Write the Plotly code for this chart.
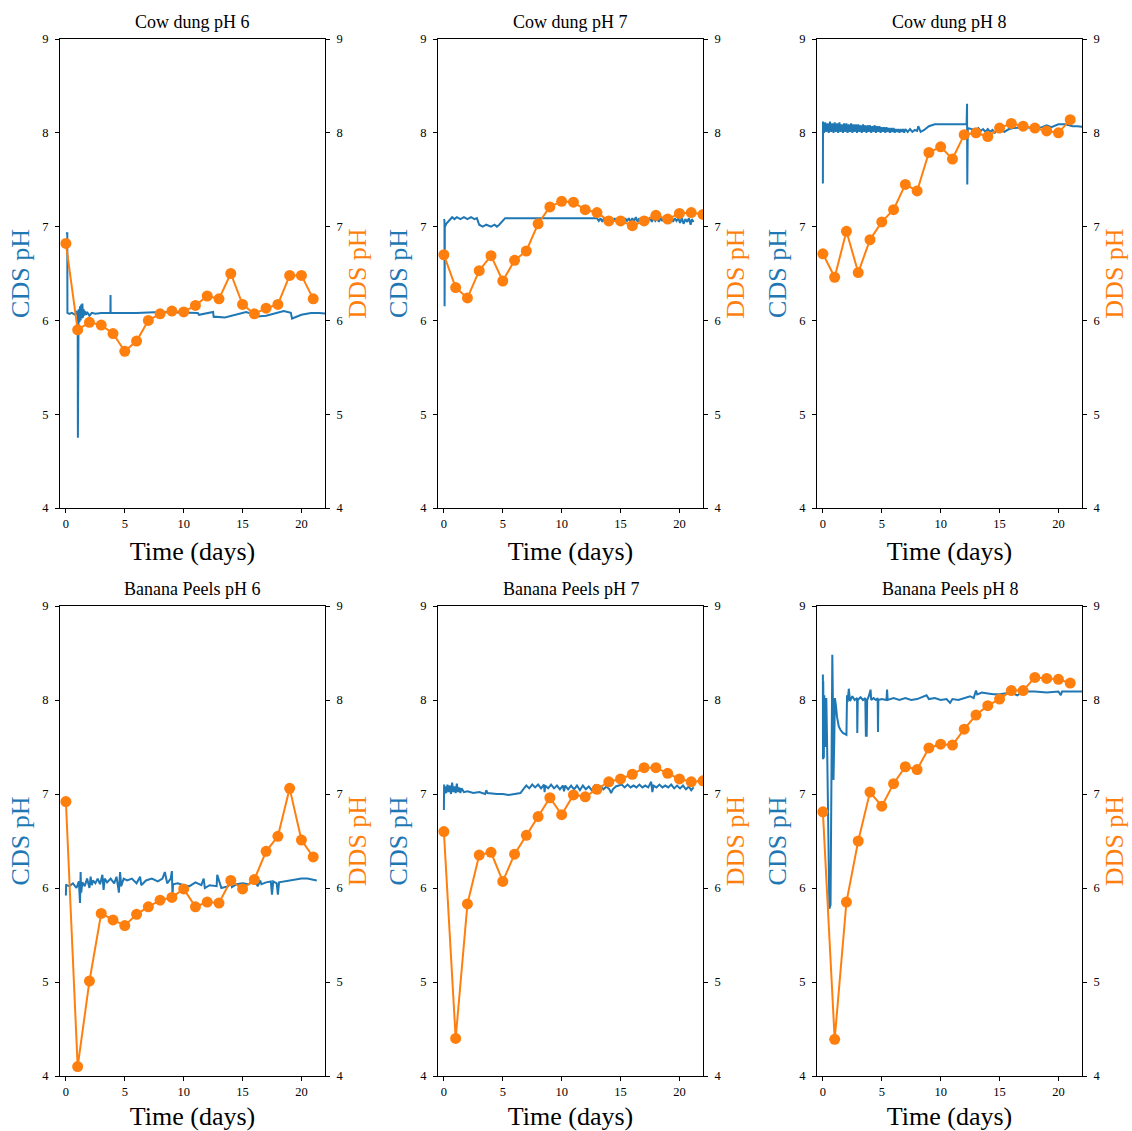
import plotly.graph_objects as go

# ---------------- data ----------------
titles = ["Cow dung pH 6", "Cow dung pH 7", "Cow dung pH 8",
          "Banana Peels pH 6", "Banana Peels pH 7", "Banana Peels pH 8"]

x_ticks = [0, 5, 10, 15, 20]
y_ticks = [4, 5, 6, 7, 8, 9]

# DDS daily samples (days 0..n)
dds_cd6 = [6.82, 5.90, 5.98, 5.95, 5.86, 5.67, 5.78, 6.00, 6.07, 6.10, 6.09,
           6.16, 6.26, 6.23, 6.50, 6.17, 6.07, 6.13, 6.17, 6.48, 6.48, 6.23]
dds_cd7 = [6.70, 6.35, 6.24, 6.53, 6.69, 6.42, 6.64, 6.74, 7.03, 7.21, 7.27,
           7.26, 7.18, 7.15, 7.06, 7.06, 7.01, 7.06, 7.12, 7.08, 7.14, 7.15, 7.13]
dds_cd8 = [6.71, 6.46, 6.95, 6.51, 6.86, 7.05, 7.18, 7.45, 7.38, 7.79, 7.85,
           7.72, 7.98, 8.00, 7.96, 8.05, 8.10, 8.07, 8.05, 8.02, 8.00, 8.14]
dds_bp6 = [6.92, 4.10, 5.01, 5.73, 5.66, 5.60, 5.72, 5.80, 5.87, 5.90, 5.99,
           5.80, 5.85, 5.84, 6.08, 5.99, 6.09, 6.39, 6.55, 7.06, 6.51, 6.33]
dds_bp7 = [6.60, 4.40, 5.83, 6.35, 6.38, 6.07, 6.36, 6.56, 6.76, 6.96, 6.78,
           6.99, 6.97, 7.05, 7.13, 7.16, 7.21, 7.28, 7.28, 7.22, 7.16, 7.13, 7.14]
dds_bp8 = [6.81, 4.39, 5.85, 6.50, 7.02, 6.87, 7.11, 7.29, 7.26, 7.49, 7.53,
           7.52, 7.69, 7.84, 7.94, 8.01, 8.10, 8.10, 8.24, 8.23, 8.22, 8.18]

# CDS continuous logger readings (time in days, pH)
cds_cd6 = [(0, 6.93), (0.12, 6.93), (0.13, 6.08), (0.3, 6.07), (0.5, 6.08), (0.8, 6.06),
           (0.95, 6.10), (1.0, 6.05), (1.02, 4.75), (1.04, 6.02), (1.08, 6.12), (1.15, 5.98),
           (1.2, 6.15), (1.25, 6.00), (1.3, 6.17), (1.35, 6.02), (1.4, 6.18), (1.45, 6.03),
           (1.5, 6.12), (1.55, 6.05), (1.6, 6.10), (1.7, 6.06), (1.8, 6.09), (2.0, 6.05),
           (2.2, 6.08), (2.5, 6.07), (3.0, 6.08), (3.5, 6.08), (3.78, 6.08), (3.79, 6.27),
           (3.8, 6.08), (4.5, 6.08), (6.0, 6.08), (8.0, 6.09), (10.0, 6.08), (11.2, 6.08),
           (11.3, 6.06), (12.5, 6.09), (12.55, 6.03), (12.6, 6.04), (13.5, 6.03), (14.5, 6.06),
           (15.3, 6.09), (15.8, 6.07), (16.0, 6.04), (17.0, 6.05), (18.5, 6.10), (19.1, 6.08),
           (19.2, 6.02), (20.0, 6.06), (20.8, 6.08), (21.5, 6.08), (22.2, 6.07)]

cds_cd7 = [(0, 7.08), (0.05, 7.06), (0.06, 6.15), (0.08, 7.02), (0.1, 7.00), (0.2, 7.03),
           (0.35, 7.05), (0.5, 7.07), (0.7, 7.10), (0.9, 7.08), (1.1, 7.10), (1.4, 7.08),
           (1.7, 7.10), (2.0, 7.08), (2.3, 7.10), (2.6, 7.08), (2.8, 7.09),
           (3.0, 7.02), (3.3, 7.00), (3.6, 7.02), (4.0, 7.00), (4.3, 7.02), (4.5, 7.00),
           (4.7, 7.02), (5.0, 7.06), (5.2, 7.09), (7.0, 7.09), (10.0, 7.09), (12.8, 7.09),
           (13.0, 7.09), (13.15, 7.06), (13.3, 7.09), (13.45, 7.05), (13.6, 7.09), (13.75, 7.06),
           (13.9, 7.10), (14.05, 7.05), (14.2, 7.09), (14.35, 7.06), (14.5, 7.09), (14.65, 7.05),
           (14.8, 7.09), (14.95, 7.06), (15.1, 7.10), (15.25, 7.05), (15.4, 7.09), (15.55, 7.06),
           (15.7, 7.09), (15.85, 7.05), (16.0, 7.09), (16.15, 7.06), (16.3, 7.10), (16.45, 7.05),
           (16.6, 7.09), (16.75, 7.06), (16.9, 7.09), (17.05, 7.05), (17.2, 7.09), (17.35, 7.06),
           (17.5, 7.10), (17.65, 7.05), (17.8, 7.09), (17.95, 7.06), (18.1, 7.09), (18.25, 7.05),
           (18.4, 7.09), (18.55, 7.06), (18.7, 7.10), (18.85, 7.05), (19.0, 7.09), (19.15, 7.06),
           (19.3, 7.09), (19.45, 7.05), (19.6, 7.09), (19.75, 7.06), (19.9, 7.09), (20.05, 7.04),
           (20.2, 7.09), (20.35, 7.03), (20.5, 7.08), (20.65, 7.05), (20.8, 7.09), (20.95, 7.02),
           (21.05, 7.08), (21.2, 7.05)]

cds_cd8 = [(0, 7.46), (0.01, 8.12), (0.1, 8.00), (0.2, 8.11), (0.3, 8.01), (0.4, 8.10),
           (0.5, 8.00), (0.6, 8.12), (0.7, 8.01), (0.8, 8.10), (0.9, 8.00), (1.0, 8.11),
           (1.1, 8.01), (1.2, 8.10), (1.3, 8.00), (1.4, 8.11), (1.5, 8.01), (1.6, 8.09),
           (1.7, 8.00), (1.8, 8.10), (1.9, 8.01), (2.0, 8.10), (2.1, 8.00), (2.2, 8.09),
           (2.3, 8.01), (2.4, 8.10), (2.5, 8.00), (2.6, 8.09), (2.7, 8.01), (2.8, 8.09),
           (2.9, 8.00), (3.0, 8.09), (3.1, 8.01), (3.2, 8.08), (3.3, 8.00), (3.4, 8.09),
           (3.5, 8.01), (3.6, 8.08), (3.7, 8.00), (3.8, 8.08), (3.9, 8.01), (4.0, 8.08),
           (4.1, 8.00), (4.2, 8.07), (4.3, 8.01), (4.4, 8.08), (4.5, 8.00), (4.6, 8.07),
           (4.7, 8.01), (4.8, 8.07), (4.9, 8.00), (5.0, 8.06), (5.1, 8.01), (5.2, 8.06),
           (5.3, 8.00), (5.4, 8.06), (5.5, 8.01), (5.6, 8.05), (5.7, 8.00), (5.8, 8.05),
           (5.9, 8.01), (6.0, 8.05), (6.1, 8.00), (6.2, 8.04), (6.3, 8.01), (6.4, 8.04),
           (6.5, 8.00), (6.6, 8.04), (6.7, 8.01), (6.8, 8.04), (6.9, 8.00), (7.0, 8.04),
           (7.2, 8.01), (7.4, 8.04), (7.6, 8.01), (7.8, 8.03), (8.0, 8.02), (8.1, 8.07),
           (8.3, 8.01), (8.6, 8.03), (9.0, 8.07), (9.5, 8.09), (10.5, 8.09), (11.5, 8.09),
           (12.2, 8.09), (12.24, 8.31), (12.26, 7.45), (12.28, 8.06), (12.3, 8.05), (12.6, 8.04),
           (13.0, 8.03), (13.2, 8.05), (13.4, 8.02), (13.6, 8.04), (13.8, 8.01), (14.0, 8.04),
           (14.2, 8.01), (14.4, 8.03), (14.6, 8.00), (14.8, 8.03), (15.0, 8.01), (15.2, 8.04),
           (15.4, 8.01), (15.8, 8.04), (16.2, 8.05), (17.0, 8.06), (18.0, 8.05), (18.6, 8.06),
           (19.0, 8.08), (19.4, 8.06), (20.0, 8.09), (20.6, 8.09), (21.2, 8.07), (21.6, 8.07),
           (22.2, 8.06)]

cds_bp6 = [(0, 5.92), (0.02, 6.04), (0.04, 5.95), (0.06, 6.03), (0.3, 6.02), (0.6, 6.05),
           (0.9, 6.00), (1.1, 6.07), (1.2, 5.84), (1.25, 6.17), (1.3, 5.95), (1.4, 6.06),
           (1.6, 6.02), (1.8, 6.10), (2.0, 6.00), (2.1, 6.12), (2.2, 6.03), (2.3, 6.08),
           (2.5, 6.05), (2.7, 6.10), (2.9, 6.04), (3.1, 6.14), (3.2, 5.98), (3.3, 6.10),
           (3.5, 6.06), (3.8, 6.10), (4.1, 6.05), (4.3, 6.12), (4.5, 5.95), (4.6, 6.17),
           (4.7, 6.02), (4.9, 6.10), (5.2, 6.08), (5.6, 6.10), (6.0, 6.05), (6.3, 6.12),
           (6.4, 6.03), (6.8, 6.08), (7.3, 6.10), (7.8, 6.07), (8.2, 6.10), (8.4, 6.17),
           (8.6, 6.05), (8.9, 6.10), (9.0, 6.18), (9.05, 5.92), (9.1, 6.04), (9.5, 6.05),
           (10.0, 6.03), (10.5, 6.02), (11.0, 6.06), (11.5, 6.03), (11.7, 6.10), (11.8, 6.00),
           (12.2, 6.03), (12.8, 6.02), (12.85, 6.14), (13.2, 6.00), (13.8, 6.02), (14.0, 6.08),
           (14.1, 6.01), (14.5, 6.04), (15.0, 6.05), (15.5, 6.04), (16.0, 6.07), (16.3, 6.02),
           (16.5, 6.08), (16.6, 6.04), (17.0, 6.06), (17.4, 6.07), (17.5, 5.93), (17.6, 6.07),
           (17.9, 6.05), (18.0, 5.93), (18.1, 6.06), (18.5, 6.07), (19.0, 6.08), (19.5, 6.09),
           (20.0, 6.10), (20.5, 6.10), (21.0, 6.09), (21.3, 6.08)]

cds_bp7 = [(0, 6.83), (0.02, 7.10), (0.05, 7.00), (0.1, 7.08), (0.2, 7.01), (0.3, 7.10),
           (0.4, 7.02), (0.5, 7.09), (0.6, 7.00), (0.7, 7.12), (0.8, 7.02), (0.9, 7.08),
           (1.0, 7.01), (1.1, 7.11), (1.2, 7.02), (1.3, 7.07), (1.4, 7.01), (1.5, 7.06),
           (1.7, 7.02), (2.0, 7.03), (2.5, 7.01), (3.0, 7.02), (3.5, 7.00), (3.6, 7.04),
           (3.7, 7.01), (4.5, 7.00), (5.0, 7.00), (5.5, 6.99), (6.0, 7.00), (6.5, 7.01),
           (6.8, 7.06), (7.0, 7.09), (7.25, 7.06), (7.5, 7.10), (7.75, 7.07), (8.0, 7.10),
           (8.25, 7.06), (8.5, 7.10), (8.55, 7.02), (8.6, 7.09), (8.85, 7.06), (9.1, 7.10),
           (9.35, 7.06), (9.6, 7.09), (9.85, 7.05), (10.1, 7.09), (10.2, 7.03), (10.3, 7.09),
           (10.55, 7.05), (10.8, 7.09), (11.05, 7.05), (11.3, 7.09), (11.55, 7.04), (11.8, 7.09),
           (12.05, 7.05), (12.3, 7.08), (12.55, 7.04), (12.8, 7.09), (13.05, 7.04), (13.3, 7.08),
           (13.55, 7.05), (13.8, 7.08), (14.05, 7.05), (14.2, 7.01), (14.35, 7.05), (14.6, 7.08),
           (14.85, 7.09), (15.1, 7.10), (15.35, 7.07), (15.6, 7.10), (15.85, 7.07), (16.1, 7.09),
           (16.35, 7.07), (16.6, 7.10), (16.85, 7.07), (17.1, 7.09), (17.35, 7.07), (17.6, 7.13),
           (17.7, 7.02), (17.8, 7.09), (18.05, 7.07), (18.3, 7.10), (18.55, 7.07), (18.8, 7.09),
           (19.05, 7.07), (19.3, 7.10), (19.55, 7.06), (19.8, 7.09), (20.05, 7.06), (20.3, 7.09),
           (20.55, 7.05), (20.8, 7.08), (21.0, 7.04), (21.2, 7.07)]

cds_bp8 = [(0, 8.27), (0.01, 7.37), (0.03, 8.20), (0.08, 7.38), (0.12, 8.05), (0.2, 7.50),
           (0.29, 8.02), (0.35, 7.60), (0.45, 6.50), (0.55, 5.78), (0.65, 5.82), (0.72, 7.50),
           (0.8, 8.48), (0.85, 8.00), (0.9, 7.15), (0.97, 7.60), (1.02, 8.02), (1.1, 7.95),
           (1.2, 7.82), (1.35, 7.72), (1.5, 7.68), (1.7, 7.65), (1.95, 7.63), (2.0, 7.63),
           (2.05, 8.05), (2.1, 7.98), (2.2, 8.12), (2.3, 7.99), (2.5, 8.04), (2.7, 8.00),
           (2.9, 8.02), (2.92, 7.65), (2.96, 8.00), (3.2, 8.03), (3.4, 8.00), (3.6, 8.02),
           (3.65, 7.62), (3.72, 7.62), (3.76, 8.00), (3.9, 8.04), (4.05, 8.11), (4.1, 8.00),
           (4.3, 8.02), (4.5, 8.00), (4.65, 8.02), (4.68, 7.66), (4.71, 8.00), (5.0, 8.01),
           (5.4, 8.00), (5.45, 8.11), (5.5, 8.00), (6.0, 8.02), (6.5, 8.00), (7.0, 8.02),
           (7.5, 8.00), (8.0, 8.01), (8.5, 8.03), (8.8, 8.05), (9.0, 8.01), (9.5, 8.02),
           (10.0, 8.00), (10.5, 8.01), (10.8, 7.97), (11.0, 8.01), (11.5, 8.00), (12.0, 8.02),
           (12.5, 8.04), (12.8, 8.02), (13.0, 8.10), (13.1, 8.06), (13.5, 8.08), (14.0, 8.07),
           (14.5, 8.06), (15.0, 8.06), (15.5, 8.07), (16.0, 8.08), (16.5, 8.05), (17.0, 8.09),
           (18.0, 8.09), (19.0, 8.08), (20.0, 8.09), (20.2, 8.05), (20.3, 8.09), (21.0, 8.09),
           (22.2, 8.09)]

cds_all = [cds_cd6, cds_cd7, cds_cd8, cds_bp6, cds_bp7, cds_bp8]
dds_all = [dds_cd6, dds_cd7, dds_cd8, dds_bp6, dds_bp7, dds_bp8]

# ---------------- figure ----------------
W, H = 1132, 1131
BLUE = "#1f77b4"
ORANGE = "#ff7f0e"
FONT = "Liberation Serif"

col_px = [(60, 325), (438, 703), (817, 1082)]
row_px = [(39, 508), (606, 1076)]

fig = go.Figure()
layout = dict(
    width=W, height=H, margin=dict(l=0, r=0, t=0, b=0, pad=0, autoexpand=False),
    paper_bgcolor="white", plot_bgcolor="white", showlegend=False,
    font=dict(family=FONT, color="black", size=12),
)
annotations = []

for i in range(6):
    r, c = divmod(i, 3)
    x0, x1 = col_px[c]
    yt, yb = row_px[r]
    xd = [x0 / W, x1 / W]
    yd = [1 - yb / H, 1 - yt / H]
    xn = "x" if i == 0 else f"x{i+1}"
    yl = 2 * i + 1
    yr = 2 * i + 2
    yln = "y" if yl == 1 else f"y{yl}"
    yrn = f"y{yr}"

    cds = cds_all[i]
    fig.add_trace(go.Scatter(
        x=[p[0] for p in cds], y=[p[1] for p in cds], mode="lines",
        line=dict(color=BLUE, width=2), xaxis=xn, yaxis=yln, hoverinfo="skip"))
    dds = dds_all[i]
    fig.add_trace(go.Scatter(
        x=list(range(len(dds))), y=dds, mode="lines+markers",
        line=dict(color=ORANGE, width=2), marker=dict(color=ORANGE, size=11),
        xaxis=xn, yaxis=yrn, hoverinfo="skip"))

    xkey = "xaxis" if i == 0 else f"xaxis{i+1}"
    ylkey = "yaxis" if yl == 1 else f"yaxis{yl}"
    yrkey = f"yaxis{yr}"
    common = dict(showgrid=False, zeroline=False, showline=True, linecolor="black",
                  linewidth=1, ticks="outside", ticklen=4, tickwidth=1, automargin=False,
                  tickcolor="black", tickfont=dict(size=12.5, family=FONT, color="black"))
    layout[xkey] = dict(domain=xd, anchor=yln, range=[-0.5, 22], tickvals=x_ticks,
                        mirror=True,
                        title=dict(text="Time (days)", font=dict(size=26, family=FONT, color="black"),
                                   standoff=11),
                        **common)
    layout[ylkey] = dict(domain=yd, anchor=xn, range=[4, 9], tickvals=y_ticks, side="left",
                         ticklabelstandoff=4,
                         title=dict(text="CDS pH", font=dict(size=26, family=FONT, color=BLUE),
                                    standoff=5),
                         **common)
    layout[yrkey] = dict(domain=yd, anchor=xn, overlaying=yln, range=[4, 9], tickvals=y_ticks,
                         side="right", ticklabelstandoff=4,
                         title=dict(text="DDS pH", font=dict(size=26, family=FONT, color=ORANGE),
                                    standoff=5),
                         **common)
    annotations.append(dict(text=titles[i], x=(xd[0] + xd[1]) / 2, y=yd[1], xref="paper",
                            yref="paper", xanchor="center", yanchor="bottom", yshift=5,
                            showarrow=False, font=dict(size=18, family=FONT, color="black")))

layout["annotations"] = annotations
fig.update_layout(**layout)
fig.write_html("out.html")
